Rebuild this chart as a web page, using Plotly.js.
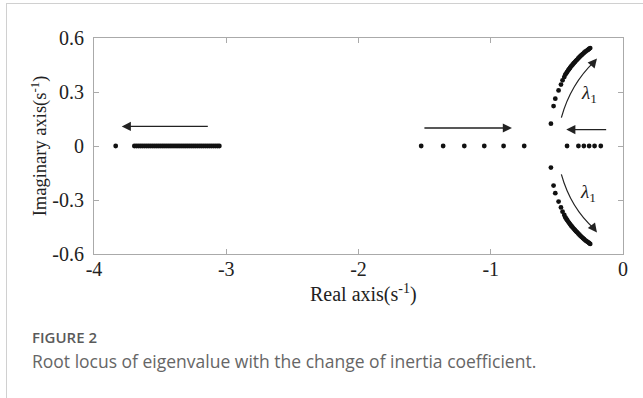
<!DOCTYPE html>
<html>
<head>
<meta charset="utf-8">
<script src="https://cdn.plot.ly/plotly-3.0.1.min.js"></script>
<style>
  html, body { margin: 0; padding: 0; background: #fff; }
  #wrap { position: relative; width: 643px; height: 398px; overflow: hidden; }
  #chart { position: absolute; left: 0; top: 0; width: 643px; height: 398px; }
  #frame { position: absolute; left: 6px; top: 3px; width: 640px; height: 400px;
           border-left: 1.5px solid #d0d0d0; border-top: 1.5px solid #d0d0d0; pointer-events: none; }
  #figlabel { position: absolute; left: 32px; top: 327px; font-family: 'Open Sans', sans-serif;
              font-size: 15px; font-weight: 600; color: #5a5a5a; }
  #figcap { position: absolute; left: 32px; top: 349px; font-family: 'Open Sans', sans-serif;
            font-size: 17.5px; color: #666; white-space: nowrap; }
</style>
</head>
<body>
<div id="wrap">
  <div id="chart"></div>
  <div id="frame"></div>
  <div id="figlabel">FIGURE 2</div>
  <div id="figcap">Root locus of eigenvalue with the change of inertia coefficient.</div>
</div>
<script>
// Real-axis eigenvalues
const farRe = [-3.836];
const clusterRe = [-3.695, -3.680, -3.665, -3.650, -3.635, -3.620, -3.605, -3.590, -3.575, -3.560,
  -3.545, -3.530, -3.515, -3.500, -3.485, -3.470, -3.455, -3.440, -3.425, -3.410,
  -3.395, -3.380, -3.365, -3.350, -3.335, -3.320, -3.305, -3.290, -3.275, -3.260,
  -3.245, -3.230, -3.215, -3.200, -3.185, -3.170, -3.155, -3.140, -3.125, -3.110,
  -3.095, -3.080, -3.065, -3.052];
const middleRe = [-1.526, -1.360, -1.200, -1.049, -0.903, -0.747];
const nearRe = [-0.423, -0.337, -0.296, -0.256, -0.215, -0.168];

// Complex pair λ1 (upper and lower branches)
const upperRe = [-0.545, -0.525, -0.512, -0.487, -0.469, -0.457, -0.444,
  -0.436, -0.429, -0.422, -0.415, -0.408, -0.401, -0.394, -0.387, -0.380, -0.372,
  -0.364, -0.356, -0.348, -0.339, -0.330, -0.321, -0.312, -0.303, -0.294, -0.285,
  -0.276, -0.266, -0.257, -0.248];
const upperIm = [0.124, 0.222, 0.263, 0.309, 0.341, 0.365, 0.383,
  0.397, 0.404, 0.412, 0.420, 0.427, 0.434, 0.441, 0.447, 0.453, 0.460,
  0.466, 0.473, 0.479, 0.486, 0.493, 0.500, 0.506, 0.512, 0.518, 0.524,
  0.529, 0.534, 0.539, 0.544];
const lowerRe = [-0.545, -0.525, -0.512, -0.487, -0.469, -0.457, -0.444,
  -0.436, -0.429, -0.422, -0.415, -0.408, -0.401, -0.394, -0.387, -0.380, -0.372,
  -0.364, -0.356, -0.348, -0.339, -0.330, -0.321, -0.312, -0.303, -0.294, -0.285,
  -0.276, -0.266, -0.257, -0.248];
const lowerIm = [-0.120, -0.220, -0.262, -0.309, -0.341, -0.365, -0.383,
  -0.397, -0.404, -0.412, -0.420, -0.427, -0.434, -0.441, -0.447, -0.453, -0.460,
  -0.466, -0.473, -0.479, -0.486, -0.493, -0.500, -0.506, -0.512, -0.518, -0.524,
  -0.529, -0.534, -0.539, -0.544];

const xTicks = [-4, -3, -2, -1, 0];
const xTickText = ['-4', '-3', '-2', '-1', '0'];
const yTicks = [-0.6, -0.3, 0, 0.3, 0.6];
const yTickText = ['-0.6', '-0.3', '0', '0.3', '0.6'];

const dot = {color: '#111', size: 4.8};
const mk = (xs, ys) => ({x: xs, y: ys, type: 'scatter', mode: 'markers', marker: dot,
  hoverinfo: 'skip', showlegend: false, cliponaxis: false});
const zeros = a => a.map(() => 0);

const traces = [
  mk(farRe, zeros(farRe)),
  mk(clusterRe, zeros(clusterRe)),
  mk(middleRe, zeros(middleRe)),
  mk(nearRe, zeros(nearRe)),
  mk(upperRe, upperIm),
  mk(lowerRe, lowerIm)
];

const serif = 'Liberation Serif';

const layout = {
  width: 643, height: 398,
  margin: {l: 94, r: 20, t: 38, b: 144},
  font: {family: serif, size: 19, color: '#222'},
  paper_bgcolor: 'rgba(0,0,0,0)', plot_bgcolor: 'rgba(0,0,0,0)',
  xaxis: {
    showgrid: false, zeroline: false, showline: true, linecolor: '#aaa', linewidth: 1,
    mirror: 'ticks', ticks: 'inside', ticklen: 5, tickcolor: '#aaa', tickwidth: 1,
    tickfont: {family: serif, size: 20, color: '#222'}, ticklabelstandoff: -3,
    range: [-4, 0], tickvals: xTicks, ticktext: xTickText
  },
  yaxis: {
    showgrid: false, zeroline: false, showline: true, linecolor: '#aaa', linewidth: 1,
    mirror: 'ticks', ticks: 'inside', ticklen: 5, tickcolor: '#aaa', tickwidth: 1,
    tickfont: {family: serif, size: 20, color: '#222'}, ticklabelstandoff: 5,
    range: [-0.6, 0.6], tickvals: yTicks, ticktext: yTickText,
    title: {text: 'Imaginary axis(s<sup>-1</sup>)', font: {family: serif, size: 18.5, color: '#222'}, standoff: 0}
  },
  shapes: [
    {type: 'path', xref: 'x', yref: 'y', path: 'M -0.466,0.158 Q -0.395,0.345 -0.215,0.470',
     line: {color: '#222', width: 1.2}},
    {type: 'path', xref: 'x', yref: 'y', path: 'M -0.466,-0.158 Q -0.395,-0.345 -0.215,-0.462',
     line: {color: '#222', width: 1.2}}
  ],
  annotations: [
    {x: -3.79, y: 0.109, ax: -3.128, ay: 0.109},
    {x: -0.84, y: 0.100, ax: -1.513, ay: 0.100},
    {x: -0.429, y: 0.091, ax: -0.116, ay: 0.091},
    {x: -0.197, y: 0.486, ax: -0.222, ay: 0.464},
    {x: -0.197, y: -0.480, ax: -0.222, ay: -0.456}
  ].map(a => Object.assign({showarrow: true, arrowhead: 2, arrowsize: 1.4, arrowwidth: 1.3,
      arrowcolor: '#222', text: '', xref: 'x', yref: 'y', axref: 'x', ayref: 'y'}, a))
   .concat([
    {x: -0.258, y: 0.29, xref: 'x', yref: 'y', showarrow: false,
     text: '<i>λ</i><sub>1</sub>', font: {family: serif, size: 19, color: '#222'}},
    {x: -0.262, y: -0.262, xref: 'x', yref: 'y', showarrow: false,
     text: '<i>λ</i><sub>1</sub>', font: {family: serif, size: 19, color: '#222'}},
    {x: 0.51, y: 0, xref: 'paper', yref: 'paper', yanchor: 'top', yshift: -25, showarrow: false,
     text: 'Real axis(s<sup>-1</sup>)', font: {family: serif, size: 20, color: '#222'}}
  ])
};

Plotly.newPlot('chart', traces, layout, {displayModeBar: false, staticPlot: true});
</script>
</body>
</html>
